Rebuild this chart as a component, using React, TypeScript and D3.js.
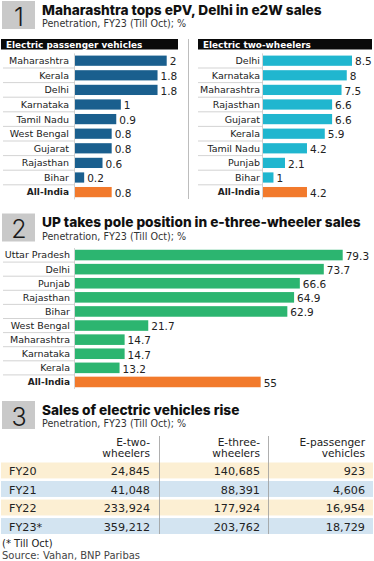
import { useEffect, useRef } from 'react';
import * as d3 from 'd3';

// panel 1 – electric passenger vehicles
const epvStates = ['Maharashtra', 'Kerala', 'Delhi', 'Karnataka', 'Tamil Nadu', 'West Bengal', 'Gujarat', 'Rajasthan', 'Bihar', 'All-India'];
const epvValues = [2, 1.8, 1.8, 1, 0.9, 0.8, 0.8, 0.6, 0.2, 0.8];
// panel 1 – electric two-wheelers
const e2wStates = ['Delhi', 'Karnataka', 'Maharashtra', 'Rajasthan', 'Gujarat', 'Kerala', 'Tamil Nadu', 'Punjab', 'Bihar', 'All-India'];
const e2wValues = [8.5, 8, 7.5, 6.6, 6.6, 5.9, 4.2, 2.1, 1, 4.2];
// panel 2 – e-three-wheelers
const e3wStates = ['Uttar Pradesh', 'Delhi', 'Punjab', 'Rajasthan', 'Bihar', 'West Bengal', 'Maharashtra', 'Karnataka', 'Kerala', 'All-India'];
const e3wValues = [79.3, 73.7, 66.6, 64.9, 62.9, 21.7, 14.7, 14.7, 13.2, 55];
// panel 3 – sales table
const years = ['FY20', 'FY21', 'FY22', 'FY23*'];
const salesTwo = ['24,845', '41,048', '233,924', '359,212'];
const salesThree = ['140,685', '88,391', '177,924', '203,762'];
const salesPass = ['923', '4,606', '16,954', '18,729'];
const tableHeads = [['E-two-', 'wheelers'], ['E-three-', 'wheelers'], ['E-passenger', 'vehicles']];

const SANS = 'DejaVu Sans, Verdana, sans-serif';
const HEAD = 'Inter, DejaVu Sans, sans-serif';
const ORANGE = '#f27a2c';

function sectionHead(svg, y, num, title, sub) {
  svg.append('rect').attr('x', 2).attr('y', y).attr('width', 33).attr('height', 28).attr('fill', '#c9c9c9');
  svg.append('text').attr('x', 19).attr('y', y + 24.5).attr('text-anchor', 'middle')
    .attr('font-family', HEAD).attr('font-size', 25).attr('font-weight', 300).attr('fill', '#1a1a1a').text(num);
  svg.append('text').attr('x', 42).attr('y', y + 13.5).attr('font-family', HEAD).attr('font-weight', 800)
    .attr('font-size', 13.7).attr('fill', '#111').text(title);
  svg.append('text').attr('x', 42).attr('y', y + 26).attr('font-family', SANS)
    .attr('font-size', 9.6).attr('fill', '#333').text(sub);
}

function barBlock(svg, opts) {
  const { names, values, x0, x1, max, labelRight, lineLeft, top, bottom, pad, color } = opts;
  const x = d3.scaleLinear().domain([0, max]).range([x0, x1]);
  const y = d3.scaleBand().domain(names).range([top, bottom]).paddingInner(pad).paddingOuter(pad / 2);
  const gap = (y.step() - y.bandwidth()) / 2;
  const g = svg.append('g');
  // separators under labels
  g.selectAll('line.sep').data(names.slice(1)).enter().append('line')
    .attr('x1', lineLeft).attr('x2', x0)
    .attr('y1', d => y(d) - gap).attr('y2', d => y(d) - gap)
    .attr('stroke', '#c8c8c8').attr('stroke-width', 0.8);
  g.append('line').attr('x1', x0 - 0.5).attr('x2', x0 - 0.5).attr('y1', top).attr('y2', bottom)
    .attr('stroke', '#c8c8c8').attr('stroke-width', 0.8);
  g.selectAll('rect').data(names).enter().append('rect')
    .attr('x', x0).attr('y', d => y(d))
    .attr('width', (d, i) => x(values[i]) - x0).attr('height', y.bandwidth())
    .attr('fill', d => (d === 'All-India' ? ORANGE : color));
  g.selectAll('text.lab').data(names).enter().append('text')
    .attr('x', labelRight).attr('y', d => y(d) + y.bandwidth() / 2).attr('dy', '0.36em')
    .attr('text-anchor', 'end').attr('font-family', SANS)
    .attr('font-size', d => (d === 'All-India' ? 9 : 9.5))
    .attr('font-weight', d => (d === 'All-India' ? 700 : 400)).attr('fill', '#222').text(d => d);
  g.selectAll('text.val').data(names).enter().append('text')
    .attr('x', (d, i) => x(values[i]) + 3).attr('y', d => y(d) + y.bandwidth() / 2 + 1).attr('dy', '0.36em')
    .attr('font-family', SANS).attr('font-size', 10.5).attr('fill', '#222')
    .text((d, i) => d3.format('~g')(values[i]));
}

export default function App() {
  const ref = useRef<SVGSVGElement>(null);
  useEffect(() => {
    if (!ref.current) return;
    const svg = d3.select(ref.current);
    svg.selectAll('*').remove();
    svg.append('rect').attr('width', 374).attr('height', 561).attr('fill', '#fff');

    // ---- section 1
    sectionHead(svg, 1, '1', 'Maharashtra tops ePV, Delhi in e2W sales', 'Penetration, FY23 (Till Oct); %');
    svg.append('rect').attr('x', 1).attr('y', 39).attr('width', 177).attr('height', 10.5).attr('fill', '#0a0a0a');
    svg.append('text').attr('x', 6).attr('y', 47.6).attr('font-family', SANS).attr('font-weight', 700)
      .attr('font-size', 8.9).attr('fill', '#fff').text('Electric passenger vehicles');
    svg.append('rect').attr('x', 198).attr('y', 39).attr('width', 174).attr('height', 10.5).attr('fill', '#0a0a0a');
    svg.append('text').attr('x', 203).attr('y', 47.6).attr('font-family', SANS).attr('font-weight', 700)
      .attr('font-size', 8.9).attr('fill', '#fff').text('Electric two-wheelers');
    svg.append('line').attr('x1', 188.5).attr('x2', 188.5).attr('y1', 39).attr('y2', 199)
      .attr('stroke', '#bdbdbd').attr('stroke-width', 1);

    barBlock(svg, { names: epvStates, values: epvValues, x0: 75, x1: 166.7, max: 2, labelRight: 69, lineLeft: 3,
      top: 53.4, bottom: 199.4, pad: 0.3, color: '#1a5f8e' });
    barBlock(svg, { names: e2wStates, values: e2wValues, x0: 263, x1: 352, max: 8.5, labelRight: 260, lineLeft: 198,
      top: 53.4, bottom: 199.4, pad: 0.3, color: '#20b6cf' });

    // ---- section 2
    sectionHead(svg, 213.5, '2', 'UP takes pole position in e-three-wheeler sales', 'Penetration, FY23 (Till Oct); %');
    barBlock(svg, { names: e3wStates, values: e3wValues, x0: 75, x1: 342.7, max: 79.3, labelRight: 70, lineLeft: 3,
      top: 248, bottom: 389, pad: 0.25, color: '#2cb570' });

    // ---- section 3
    sectionHead(svg, 401, '3', 'Sales of electric vehicles rise', 'Penetration, FY23 (Till Oct); %');
    const colRight = [150, 260, 365];
    const rows = d3.scaleBand().domain(years).range([462.5, 534]).paddingInner(0.14);
    svg.selectAll('rect.band').data(years).enter().append('rect')
      .attr('x', 1).attr('width', 372).attr('y', d => rows(d)).attr('height', rows.bandwidth())
      .attr('fill', (d, i) => (i % 2 === 0 ? '#fcefd3' : '#d3e4f1'));
    [159.5, 268.5].forEach(xx => {
      svg.append('line').attr('x1', xx).attr('x2', xx).attr('y1', 436).attr('y2', 534)
        .attr('stroke', '#9a9a9a').attr('stroke-width', 0.8);
    });
    tableHeads.forEach((lines, c) => {
      lines.forEach((t, k) => {
        svg.append('text').attr('x', colRight[c]).attr('y', 445.5 + k * 11.5).attr('text-anchor', 'end')
          .attr('font-family', SANS).attr('font-size', 10.6).attr('fill', '#222').text(t);
      });
    });
    const cols = [salesTwo, salesThree, salesPass];
    years.forEach((yr, i) => {
      const cy = rows(yr) + rows.bandwidth() / 2 + 0.5;
      svg.append('text').attr('x', 9).attr('y', cy).attr('dy', '0.36em')
        .attr('font-family', SANS).attr('font-size', 11.2).attr('fill', '#222').text(yr);
      cols.forEach((col, c) => {
        svg.append('text').attr('x', colRight[c]).attr('y', cy).attr('dy', '0.36em').attr('text-anchor', 'end')
          .attr('font-family', SANS).attr('font-size', 11.2).attr('fill', '#222').text(col[i]);
      });
    });
    svg.append('text').attr('x', 2).attr('y', 546.5).attr('font-family', SANS).attr('font-size', 10)
      .attr('fill', '#222').text('(* Till Oct)');
    svg.append('text').attr('x', 2).attr('y', 559).attr('font-family', SANS).attr('font-size', 10)
      .attr('fill', '#444').text('Source: Vahan, BNP Paribas');
  }, []);
  return <svg ref={ref} width={374} height={561} style={{ position: 'absolute', left: 0, top: 0 }} />;
}
